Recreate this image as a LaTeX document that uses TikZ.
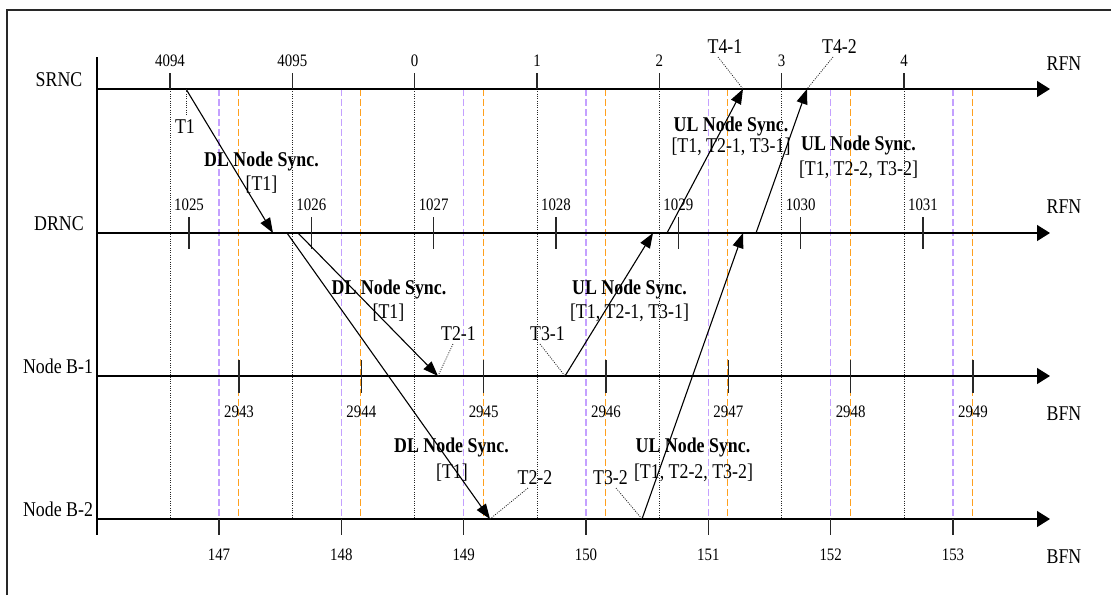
\documentclass[tikz,border=0pt]{standalone}
\usepackage{fontspec}
\setmainfont{Liberation Serif}[FakeStretch=0.85]
\usetikzlibrary{arrows.meta}
\definecolor{lav}{RGB}{196,160,255}
\definecolor{org}{RGB}{255,160,30}
\definecolor{dk}{RGB}{40,40,40}
\tikzset{
  lbl/.style={font=\fontsize{21}{21}\selectfont, inner sep=0pt, anchor=base},
  blbl/.style={font=\fontsize{21}{21}\selectfont\bfseries, inner sep=0pt, anchor=base},
  num/.style={font=\fontsize{17.5}{17.5}\selectfont, inner sep=0pt, anchor=base},
  axisline/.style={line width=1.3pt, black, -{Triangle[length=13pt,width=16pt]}},
  tickline/.style={line width=1.2pt, dk},
  dotline/.style={line width=0.8pt, black!85, dash pattern=on 1pt off 1.3pt},
  lavdash/.style={line width=1.2pt, lav, dash pattern=on 6.5pt off 3.5pt},
  orgdash/.style={line width=1.2pt, org, dash pattern=on 6.5pt off 3.5pt},
  msg/.style={line width=1.1pt, black, -{Triangle[length=15pt,width=11pt]}},
  frameline/.style={line width=1.4pt, dk},
}
\begin{document}
\begin{tikzpicture}[x=1pt,y=-1pt]
\useasboundingbox (0,0) rectangle (1111,595);
\draw[frameline] (7,595) -- (7,10) -- (1111,10);

% vertical guide lines
\foreach \i in {0,...,6} {
  \pgfmathsetmacro\xl{219+122.33*\i}
  \pgfmathsetmacro\xo{238.5+122.33*\i}
  \pgfmathsetmacro\xd{170+122.33*\i}
  \draw[lavdash] (\xl,89) -- (\xl,519);
  \draw[orgdash] (\xo,89) -- (\xo,519);
  \draw[dotline] (\xd,89) -- (\xd,519);
}

% left axis
\coordinate (ltop) at (97,57);
\coordinate (lbot) at (97,535);
\draw[tickline,black] (ltop) -- (lbot);

% axes
\coordinate (sA) at (97,89);  \coordinate (sB) at (1050,89);
\coordinate (dA) at (97,233); \coordinate (dB) at (1050,233);
\coordinate (bA) at (97,376); \coordinate (bB) at (1050,376);
\coordinate (cA) at (97,519); \coordinate (cB) at (1050,519);
\draw[axisline] (sA) -- (sB);
\draw[axisline] (dA) -- (dB);
\draw[axisline] (bA) -- (bB);
\draw[axisline] (cA) -- (cB);

% row labels
\node[lbl] (nsrnc) at (59,86) {SRNC};
\node[lbl] (ndrnc) at (59,230) {DRNC};
\node[lbl] (nb1) at (58,373) {Node B-1};
\node[lbl] (nb2) at (58,516) {Node B-2};
\node[lbl] (rfn1) at (1064,70) {RFN};
\node[lbl] (rfn2) at (1064,213) {RFN};
\node[lbl] (bfn1) at (1064,420) {BFN};
\node[lbl] (bfn2) at (1064,563) {BFN};

% ticks and numbers
\foreach \i/\t in {0/4094,1/4095,2/0,3/1,4/2,5/3,6/4} {
  \pgfmathsetmacro\xx{170+122.33*\i}
  \draw[tickline] (\xx,73) -- (\xx,89);
  \node[num] (s\i) at (\xx,66) {\t};
}
\foreach \i/\t in {0/1025,1/1026,2/1027,3/1028,4/1029,5/1030,6/1031} {
  \pgfmathsetmacro\xx{189+122.33*\i}
  \draw[tickline] (\xx,217) -- (\xx,249);
  \node[num] (d\i) at (\xx,210) {\t};
}
\foreach \i/\t in {0/2943,1/2944,2/2945,3/2946,4/2947,5/2948,6/2949} {
  \pgfmathsetmacro\xx{239+122.33*\i}
  \draw[tickline] (\xx,360) -- (\xx,393);
  \node[num] (b\i) at (\xx,417) {\t};
}
\foreach \i/\t in {0/147,1/148,2/149,3/150,4/151,5/152,6/153} {
  \pgfmathsetmacro\xx{219+122.33*\i}
  \draw[tickline] (\xx,519) -- (\xx,535);
  \node[num] (c\i) at (\xx,560) {\t};
}

% message end points
\coordinate (m1a) at (186,89);  \coordinate (m1b) at (273,233);
\coordinate (m2a) at (298,233); \coordinate (m2b) at (438,376);
\coordinate (m3a) at (287,233); \coordinate (m3b) at (490,519);
\coordinate (m4a) at (565,376); \coordinate (m4b) at (653,233);
\coordinate (m5a) at (667,233); \coordinate (m5b) at (743,89);
\coordinate (m6a) at (642,519); \coordinate (m6b) at (743,233);
\coordinate (m7a) at (756,233); \coordinate (m7b) at (807,89);
\draw[msg] (m1a) -- (m1b);
\draw[msg] (m2a) -- (m2b);
\draw[msg] (m3a) -- (m3b);
\draw[msg] (m4a) -- (m4b);
\draw[msg] (m5a) -- (m5b);
\draw[msg] (m6a) -- (m6b);
\draw[msg] (m7a) -- (m7b);

% pointer dotted lines
\coordinate (p1) at (186,115);
\coordinate (p21) at (453,344);
\coordinate (p31) at (540,344);
\coordinate (p41) at (718,57);
\coordinate (p42) at (833,57);
\coordinate (p22) at (528,488);
\coordinate (p32) at (616,488);
\draw[dotline] (m1a) -- (p1);
\draw[dotline] (p21) -- (m2b);
\draw[dotline] (p31) -- (m4a);
\draw[dotline] (p41) -- (m5b);
\draw[dotline] (p42) -- (m7b);
\draw[dotline] (p22) -- (m3b);
\draw[dotline] (p32) -- (m6a);

% labels
\node[lbl] (t1) at (185,133) {T1};
\node[lbl] (t21) at (458.5,340) {T2-1};
\node[lbl] (t31) at (547.5,340) {T3-1};
\node[lbl] (t22) at (535,484) {T2-2};
\node[lbl] (t32) at (610.5,484) {T3-2};
\node[lbl] (t41) at (725,53) {T4-1};
\node[lbl] (t42) at (839.5,53) {T4-2};

\node[blbl] (dl1) at (261.5,166) {DL Node Sync.};
\node[lbl] (dl1b) at (261.5,190) {[T1]};
\node[blbl] (dl2) at (389,294) {DL Node Sync.};
\node[lbl] (dl2b) at (388.5,318) {[T1]};
\node[blbl] (dl3) at (451.5,452) {DL Node Sync.};
\node[lbl] (dl3b) at (452,478) {[T1]};

\node[blbl] (ul1) at (731,131) {UL Node Sync.};
\node[lbl] (ul1b) at (731,152) {[T1, T2-1, T3-1]};
\node[blbl] (ul2) at (858.5,150) {UL Node Sync.};
\node[lbl] (ul2b) at (858.5,175) {[T1, T2-2, T3-2]};
\node[blbl] (ul3) at (629.5,294) {UL Node Sync.};
\node[lbl] (ul3b) at (629.5,318) {[T1, T2-1, T3-1]};
\node[blbl] (ul4) at (693,452) {UL Node Sync.};
\node[lbl] (ul4b) at (693.5,478) {[T1, T2-2, T3-2]};
\end{tikzpicture}
\end{document}
